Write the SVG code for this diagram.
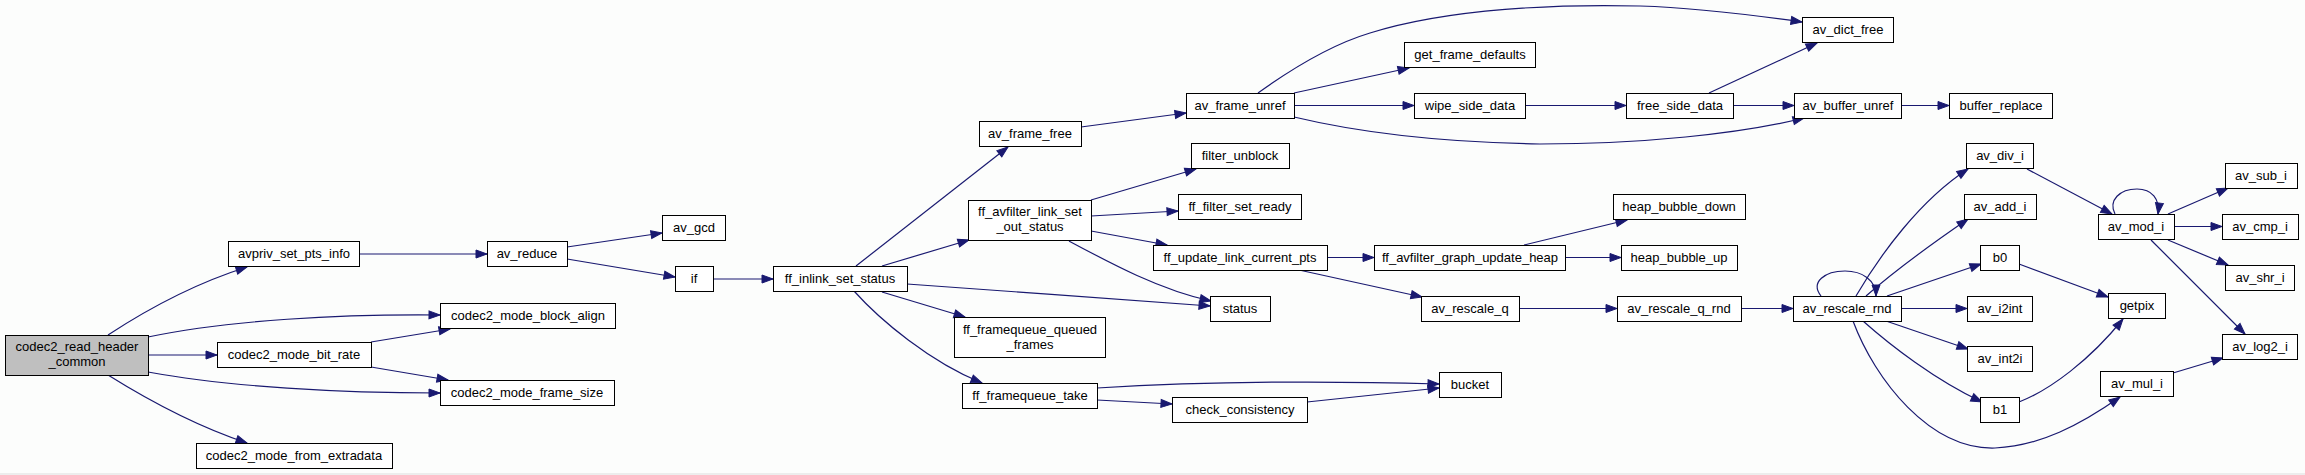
<svg xmlns="http://www.w3.org/2000/svg" width="2305" height="475" viewBox="0 0 2305 475">
<defs>
<style>
.n rect{fill:#ffffff;stroke:#000000;stroke-width:1}
.n.root rect{fill:#bfbfbf}
.n text{font-family:"Liberation Sans",Arial,sans-serif;font-size:13px;fill:#000000;text-anchor:middle}
.e path{fill:none;stroke:#191970;stroke-width:1.2;marker-end:url(#arr)}
</style>
<marker id="arr" markerUnits="userSpaceOnUse" markerWidth="14" markerHeight="12" refX="12" refY="6" orient="auto">
<path d="M1,2 L12,6 L1,10 Z" fill="#191970" stroke="#191970" stroke-width="1"/>
</marker>
</defs>
<rect x="0" y="0" width="2305" height="475" fill="#fcfdfc"/>
<line x1="0" y1="474" x2="2305" y2="474" stroke="#dddddd"/>
<g id="edges" class="e">
<path d="M108,335 C140,314 190,285 247,267"/>
<path d="M148,337 C230,320 340,314 440,315"/>
<path d="M148,355 L217,355"/>
<path d="M148,372 C230,387 340,393 440,393"/>
<path d="M108,375 C140,395 190,424 247,443"/>
<path d="M371,342 L450,329"/>
<path d="M371,367 L448,380"/>
<path d="M359,254 L487,254"/>
<path d="M567,247 L662,233"/>
<path d="M567,259 L675,277"/>
<path d="M713,279 L773,279"/>
<path d="M856,266 L1008,147"/>
<path d="M882,266 L969,240"/>
<path d="M907,284 C1000,290 1120,300 1210,306"/>
<path d="M882,292 L965,317"/>
<path d="M854,291 C880,320 930,362 982,383"/>
<path d="M1091,200 L1196,169"/>
<path d="M1091,216 L1178,211"/>
<path d="M1091,231 L1167,245"/>
<path d="M1069,241 C1110,263 1160,290 1211,301"/>
<path d="M1081,127 L1186,113"/>
<path d="M1258,93 C1290,70 1330,45 1370,33 C1450,8 1560,4 1640,6 C1700,8 1760,16 1802,22"/>
<path d="M1294,93 L1409,68"/>
<path d="M1294,105.5 L1414,105.5"/>
<path d="M1294,117 C1340,128 1420,142 1540,144 C1640,144 1740,134 1804,118"/>
<path d="M1525,105.5 L1626,105.5"/>
<path d="M1709,93 L1817,43"/>
<path d="M1733,105.5 L1794,105.5"/>
<path d="M1901,105.5 L1949,105.5"/>
<path d="M1327,257.5 L1374,257.5"/>
<path d="M1299,270 L1422,297"/>
<path d="M1524,245 L1627,220"/>
<path d="M1565,257.5 L1621,257.5"/>
<path d="M1519,308.5 L1617,308.5"/>
<path d="M1741,308.5 L1793,308.5"/>
<path d="M1097,388 C1180,383 1300,380 1439,384"/>
<path d="M1097,400 L1172,404"/>
<path d="M1307,402 L1439,388"/>
<path d="M1821,296 C1810,282 1825,271 1845,271 C1862,271 1876,280 1876,296"/>
<path d="M1856,296 C1880,255 1920,200 1968,169"/>
<path d="M1866,296 C1890,275 1930,245 1968,219"/>
<path d="M1887,296 L1981,264"/>
<path d="M1901,308.5 L1967,308.5"/>
<path d="M1886,321 L1968,349"/>
<path d="M1863,321 C1890,345 1935,380 1982,402"/>
<path d="M1853,321 C1875,380 1930,450 1995,448 C2040,446 2080,425 2120,397"/>
<path d="M2027,169 L2112,214"/>
<path d="M2019,264 L2108,297"/>
<path d="M2019,402 C2050,390 2090,360 2123,319"/>
<path d="M2115,214 C2108,200 2120,189 2137,189 C2152,189 2160,199 2158,214"/>
<path d="M2168,214 L2228,188"/>
<path d="M2174,226.5 L2222,226.5"/>
<path d="M2168,240 L2228,265"/>
<path d="M2151,240 L2245,334"/>
<path d="M2173,373 L2223,358"/>
</g>
<g id="codec2_read_header_common" class="n root"><rect x="5.5" y="335.5" width="143" height="40"/><text x="77" y="351">codec2_read_header</text><text x="77" y="366">_common</text></g>
<g id="avpriv_set_pts_info" class="n"><rect x="228.5" y="241.5" width="131" height="25"/><text x="294" y="258">avpriv_set_pts_info</text></g>
<g id="codec2_mode_block_align" class="n"><rect x="440.5" y="303.5" width="175" height="25"/><text x="528" y="320">codec2_mode_block_align</text></g>
<g id="codec2_mode_bit_rate" class="n"><rect x="217.5" y="342.5" width="154" height="25"/><text x="294" y="359">codec2_mode_bit_rate</text></g>
<g id="codec2_mode_frame_size" class="n"><rect x="440.5" y="380.5" width="174" height="25"/><text x="527" y="397">codec2_mode_frame_size</text></g>
<g id="codec2_mode_from_extradata" class="n"><rect x="196.5" y="443.5" width="196" height="25"/><text x="294" y="460">codec2_mode_from_extradata</text></g>
<g id="av_reduce" class="n"><rect x="487.5" y="241.5" width="80" height="25"/><text x="527" y="258">av_reduce</text></g>
<g id="av_gcd" class="n"><rect x="662.5" y="215.5" width="63" height="25"/><text x="694" y="232">av_gcd</text></g>
<g id="if" class="n"><rect x="675.5" y="266.5" width="38" height="25"/><text x="694" y="283">if</text></g>
<g id="ff_inlink_set_status" class="n"><rect x="773.5" y="266.5" width="134" height="25"/><text x="840" y="283">ff_inlink_set_status</text></g>
<g id="av_frame_free" class="n"><rect x="979.5" y="121.5" width="102" height="25"/><text x="1030" y="138">av_frame_free</text></g>
<g id="ff_avfilter_link_set_out_status" class="n"><rect x="968.5" y="200.5" width="123" height="40"/><text x="1030" y="216">ff_avfilter_link_set</text><text x="1030" y="231">_out_status</text></g>
<g id="ff_framequeue_queued_frames" class="n"><rect x="954.5" y="317.5" width="151" height="40"/><text x="1030" y="334">ff_framequeue_queued</text><text x="1030" y="349">_frames</text></g>
<g id="ff_framequeue_take" class="n"><rect x="962.5" y="383.5" width="135" height="25"/><text x="1030" y="400">ff_framequeue_take</text></g>
<g id="filter_unblock" class="n"><rect x="1191.5" y="143.5" width="98" height="25"/><text x="1240" y="160">filter_unblock</text></g>
<g id="ff_filter_set_ready" class="n"><rect x="1178.5" y="194.5" width="123" height="25"/><text x="1240" y="211">ff_filter_set_ready</text></g>
<g id="ff_update_link_current_pts" class="n"><rect x="1153.5" y="245.5" width="174" height="25"/><text x="1240" y="262">ff_update_link_current_pts</text></g>
<g id="status" class="n"><rect x="1210.5" y="296.5" width="60" height="25"/><text x="1240" y="313">status</text></g>
<g id="check_consistency" class="n"><rect x="1172.5" y="397.5" width="135" height="25"/><text x="1240" y="414">check_consistency</text></g>
<g id="bucket" class="n"><rect x="1439.5" y="372.5" width="62" height="25"/><text x="1470" y="389">bucket</text></g>
<g id="av_frame_unref" class="n"><rect x="1186.5" y="93.5" width="108" height="25"/><text x="1240" y="110">av_frame_unref</text></g>
<g id="get_frame_defaults" class="n"><rect x="1404.5" y="42.5" width="131" height="25"/><text x="1470" y="59">get_frame_defaults</text></g>
<g id="wipe_side_data" class="n"><rect x="1414.5" y="93.5" width="111" height="25"/><text x="1470" y="110">wipe_side_data</text></g>
<g id="free_side_data" class="n"><rect x="1626.5" y="93.5" width="107" height="25"/><text x="1680" y="110">free_side_data</text></g>
<g id="av_dict_free" class="n"><rect x="1802.5" y="17.5" width="91" height="25"/><text x="1848" y="34">av_dict_free</text></g>
<g id="av_buffer_unref" class="n"><rect x="1794.5" y="93.5" width="107" height="25"/><text x="1848" y="110">av_buffer_unref</text></g>
<g id="buffer_replace" class="n"><rect x="1949.5" y="93.5" width="103" height="25"/><text x="2001" y="110">buffer_replace</text></g>
<g id="ff_avfilter_graph_update_heap" class="n"><rect x="1374.5" y="245.5" width="191" height="25"/><text x="1470" y="262">ff_avfilter_graph_update_heap</text></g>
<g id="heap_bubble_down" class="n"><rect x="1613.5" y="194.5" width="132" height="25"/><text x="1679" y="211">heap_bubble_down</text></g>
<g id="heap_bubble_up" class="n"><rect x="1621.5" y="245.5" width="116" height="25"/><text x="1679" y="262">heap_bubble_up</text></g>
<g id="av_rescale_q" class="n"><rect x="1421.5" y="296.5" width="98" height="25"/><text x="1470" y="313">av_rescale_q</text></g>
<g id="av_rescale_q_rnd" class="n"><rect x="1617.5" y="296.5" width="124" height="25"/><text x="1679" y="313">av_rescale_q_rnd</text></g>
<g id="av_rescale_rnd" class="n"><rect x="1793.5" y="296.5" width="108" height="25"/><text x="1847" y="313">av_rescale_rnd</text></g>
<g id="av_div_i" class="n"><rect x="1966.5" y="143.5" width="67" height="25"/><text x="2000" y="160">av_div_i</text></g>
<g id="av_add_i" class="n"><rect x="1964.5" y="194.5" width="72" height="25"/><text x="2000" y="211">av_add_i</text></g>
<g id="b0" class="n"><rect x="1980.5" y="245.5" width="39" height="25"/><text x="2000" y="262">b0</text></g>
<g id="av_i2int" class="n"><rect x="1967.5" y="296.5" width="65" height="25"/><text x="2000" y="313">av_i2int</text></g>
<g id="av_int2i" class="n"><rect x="1967.5" y="346.5" width="65" height="25"/><text x="2000" y="363">av_int2i</text></g>
<g id="b1" class="n"><rect x="1980.5" y="397.5" width="39" height="25"/><text x="2000" y="414">b1</text></g>
<g id="av_mod_i" class="n"><rect x="2098.5" y="214.5" width="76" height="25"/><text x="2136" y="231">av_mod_i</text></g>
<g id="getpix" class="n"><rect x="2108.5" y="293.5" width="57" height="25"/><text x="2137" y="310">getpix</text></g>
<g id="av_mul_i" class="n"><rect x="2100.5" y="371.5" width="73" height="25"/><text x="2137" y="388">av_mul_i</text></g>
<g id="av_sub_i" class="n"><rect x="2225.5" y="163.5" width="72" height="25"/><text x="2261" y="180">av_sub_i</text></g>
<g id="av_cmp_i" class="n"><rect x="2222.5" y="214.5" width="76" height="25"/><text x="2260" y="231">av_cmp_i</text></g>
<g id="av_shr_i" class="n"><rect x="2225.5" y="265.5" width="69" height="25"/><text x="2260" y="282">av_shr_i</text></g>
<g id="av_log2_i" class="n"><rect x="2222.5" y="334.5" width="75" height="25"/><text x="2260" y="351">av_log2_i</text></g>
</svg>
